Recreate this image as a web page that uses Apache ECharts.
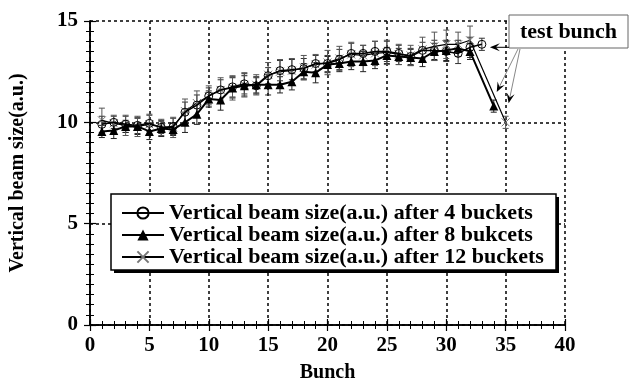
<!DOCTYPE html>
<html>
<head>
<meta charset="utf-8">
<script src="https://cdn.jsdelivr.net/npm/echarts@6/dist/echarts.min.js"></script>
<style>
html,body{margin:0;padding:0;background:#fff;}
#c{width:634px;height:381px;}
</style>
</head>
<body>
<div id="c"></div>
<script>
// ---- data ----
const xTicks = [0, 5, 10, 15, 20, 25, 30, 35, 40];
const yTicks = [0, 5, 10, 15];

const names = [
  'Vertical beam size(a.u.) after 4 buckets',
  'Vertical beam size(a.u.) after 8 bukcets',
  'Vertical beam size(a.u.) after 12 buckets'
];

const bunch4 = [1,2,3,4,5,6,7,8,9,10,11,12,13,14,15,16,17,18,19,20,21,22,23,24,25,26,27,28,29,30,31,32,33];
const size4  = [9.9,10.0,9.9,9.85,9.95,9.75,9.8,10.5,10.85,11.3,11.6,11.75,11.9,11.8,12.3,12.55,12.6,12.65,12.9,12.9,13.1,13.4,13.4,13.5,13.5,13.4,13.25,13.55,13.55,13.5,13.4,13.7,13.85];
const err4   = [0.4,0.3,0.4,0.4,0.4,0.3,0.4,0.5,0.5,0.4,0.5,0.5,0.5,0.4,0.4,0.5,0.5,0.5,0.4,0.4,0.5,0.5,0.4,0.5,0.5,0.4,0.4,0.4,0.5,0.5,0.5,0.5,0.3];

const bunch8 = [1,2,3,4,5,6,7,8,9,10,11,12,13,14,15,16,17,18,19,20,21,22,23,24,25,26,27,28,29,30,31,32,34];
const size8  = [9.55,9.6,9.8,9.8,9.55,9.7,9.65,10.0,10.4,11.15,11.1,11.7,11.8,11.85,11.85,11.85,12.0,12.5,12.45,12.85,12.9,13.0,13.0,13.05,13.3,13.25,13.2,13.15,13.5,13.55,13.65,13.5,10.8];
const err8   = [0.3,0.4,0.3,0.4,0.4,0.4,0.3,0.5,0.5,0.4,0.5,0.5,0.5,0.4,0.5,0.4,0.4,0.4,0.5,0.4,0.4,0.4,0.5,0.4,0.4,0.4,0.4,0.4,0.4,0.5,0.4,0.4,0.3];

const bunch12 = [1,2,3,4,5,6,7,8,9,10,11,12,13,14,15,16,17,18,19,20,21,22,23,24,25,26,27,28,29,30,31,32,35];
const size12  = [10.1,9.95,9.85,9.8,9.9,9.75,9.75,10.55,10.95,11.3,11.6,11.7,11.85,11.85,12.35,12.5,12.55,12.7,12.85,12.95,13.15,13.35,13.3,13.4,13.45,13.35,13.3,13.6,13.75,13.85,13.85,14.05,10.0];
const err12   = [0.6,0.4,0.5,0.5,0.5,0.4,0.5,0.6,0.6,0.5,0.6,0.6,0.6,0.5,0.6,0.6,0.6,0.6,0.5,0.6,0.6,0.6,0.5,0.6,0.6,0.5,0.5,0.6,0.7,0.7,0.6,0.7,0.3];

const annotationText = 'test bunch';

// ---- build ----
const FONT = "'Liberation Serif','Times New Roman',serif";
const pts = (xs, ys) => xs.map((x, i) => [x, ys[i]]);
const errs = (xs, ys, es) => xs.map((x, i) => [x, ys[i] - es[i], ys[i] + es[i]]);

function errSeries(data, color) {
  return {
    type: 'custom',
    data: data,
    encode: { x: 0, y: [1, 2] },
    z: 1,
    silent: true,
    renderItem: function (params, api) {
      const x = api.value(0);
      const top = api.coord([x, api.value(2)]);
      const bot = api.coord([x, api.value(1)]);
      const w = 3;
      const st = { stroke: color, lineWidth: 1 };
      return {
        type: 'group',
        children: [
          { type: 'line', shape: { x1: top[0], y1: top[1], x2: bot[0], y2: bot[1] }, style: st },
          { type: 'line', shape: { x1: top[0] - w, y1: top[1], x2: top[0] + w, y2: top[1] }, style: st },
          { type: 'line', shape: { x1: bot[0] - w, y1: bot[1], x2: bot[0] + w, y2: bot[1] }, style: st }
        ]
      };
    }
  };
}

const axisLabel = { fontFamily: FONT, fontWeight: 'bold', fontSize: 21, color: '#000' };
const splitLine = { show: true, lineStyle: { color: '#000', type: [3, 3], width: 1.5 } };
const axisLine = { show: true, lineStyle: { color: '#000', width: 1.5 } };
const tick = { show: true, inside: true, length: 6, lineStyle: { color: '#000', width: 1.2 } };

const chart = echarts.init(document.getElementById('c'), null, { renderer: 'canvas' });

const option = {
  animation: false,
  backgroundColor: '#fff',
  grid: { left: 90, right: 69, top: 21, bottom: 56, containLabel: false, outerBoundsMode: 'none' },
  xAxis: [
    {
      type: 'value', min: xTicks[0], max: xTicks[xTicks.length - 1], interval: 5,
      position: 'bottom',
      name: 'Bunch', nameLocation: 'middle', nameGap: 38,
      nameTextStyle: { fontFamily: FONT, fontWeight: 'bold', fontSize: 20, color: '#000' },
      axisLine: axisLine,
      axisTick: tick,
      minorTick: { show: true, splitNumber: 5, length: 4, lineStyle: { color: '#000', width: 1 } },
      axisLabel: Object.assign({ margin: 10 }, axisLabel),
      splitLine: splitLine
    },
    {
      type: 'value', min: xTicks[0], max: xTicks[xTicks.length - 1], interval: 5,
      position: 'top',
      axisLine: axisLine,
      axisTick: tick,
      minorTick: { show: true, splitNumber: 5, length: 4, lineStyle: { color: '#000', width: 1 } },
      axisLabel: { show: false },
      splitLine: { show: false }
    }
  ],
  yAxis: [
    {
      type: 'value', min: yTicks[0], max: yTicks[yTicks.length - 1], interval: 5,
      position: 'left',
      name: 'Vertical beam size(a.u.)', nameLocation: 'middle', nameGap: 62,
      nameTextStyle: { fontFamily: FONT, fontWeight: 'bold', fontSize: 20, color: '#000' },
      axisLine: axisLine,
      axisTick: tick,
      minorTick: { show: true, splitNumber: 10, length: 4, lineStyle: { color: '#000', width: 1 } },
      axisLabel: Object.assign({ margin: 12 }, axisLabel),
      splitLine: splitLine
    },
    {
      type: 'value', min: yTicks[0], max: yTicks[yTicks.length - 1], interval: 5,
      position: 'right',
      axisLine: axisLine,
      axisTick: tick,
      minorTick: { show: true, splitNumber: 10, length: 4, lineStyle: { color: '#000', width: 1 } },
      axisLabel: { show: false },
      splitLine: { show: false }
    }
  ],
  legend: {
    data: names,
    orient: 'vertical',
    left: 121, top: 202,
    padding: 0,
    z: 20,
    itemWidth: 42, itemHeight: 14, itemGap: 0,
    textStyle: { fontFamily: FONT, fontWeight: 'bold', fontSize: 22, lineHeight: 20, color: '#000' },
    selectedMode: false
  },
  series: [
    errSeries(errs(bunch4, size4, err4), '#333'),
    errSeries(errs(bunch8, size8, err8), '#222'),
    errSeries(errs(bunch12, size12, err12), '#555'),
    {
      name: names[0], type: 'line', data: pts(bunch4, size4), z: 3,
      symbol: 'circle', symbolSize: 8,
      lineStyle: { color: '#000', width: 1.5 },
      itemStyle: { color: 'rgba(255,255,255,0)', borderColor: '#000', borderWidth: 1 }
    },
    {
      name: names[1], type: 'line', data: pts(bunch8, size8), z: 4,
      symbol: 'triangle', symbolSize: 9,
      lineStyle: { color: '#000', width: 2 },
      itemStyle: { color: '#000' }
    },
    {
      name: names[2], type: 'line', data: pts(bunch12, size12), z: 2,
      symbol: 'path://M0,0L10,10M10,0L0,10', symbolSize: 8,
      lineStyle: { color: '#000', width: 1.2 },
      itemStyle: { color: 'none', borderColor: '#777', borderWidth: 1 }
    }
  ]
};
chart.setOption(option);

// ---- annotation & legend frame ----
function arrow(from, tip, lineColor) {
  const dx = tip[0] - from[0], dy = tip[1] - from[1];
  const L = Math.sqrt(dx * dx + dy * dy);
  const ux = dx / L, uy = dy / L;
  const px = -uy, py = ux;
  const hl = 10, hw = 4, notch = 6;
  const base = [tip[0] - ux * hl, tip[1] - uy * hl];
  const mid = [tip[0] - ux * notch, tip[1] - uy * notch];
  return [
    { type: 'line', z: 100, shape: { x1: from[0], y1: from[1], x2: mid[0], y2: mid[1] }, style: { stroke: lineColor, lineWidth: 1 } },
    { type: 'polygon', z: 100, shape: { points: [tip, [base[0] + px * hw, base[1] + py * hw], mid, [base[0] - px * hw, base[1] - py * hw]] }, style: { fill: '#000' } }
  ];
}

const p33 = chart.convertToPixel({ xAxisIndex: 0, yAxisIndex: 0 }, [bunch4[bunch4.length - 1], size4[size4.length - 1]]);
const p34 = chart.convertToPixel({ xAxisIndex: 0, yAxisIndex: 0 }, [bunch8[bunch8.length - 1], size8[size8.length - 1]]);
const p35 = chart.convertToPixel({ xAxisIndex: 0, yAxisIndex: 0 }, [bunch12[bunch12.length - 1], size12[size12.length - 1]]);

const box = { x: 509, y: 15, w: 119, h: 33 };
const lg = { x: 111, y: 194, w: 445, h: 76 };
const g = [
  { type: 'rect', z: 5, shape: { x: lg.x + 3, y: lg.y + 3, width: lg.w, height: lg.h }, style: { fill: '#000' } },
  { type: 'rect', z: 6, shape: { x: lg.x, y: lg.y, width: lg.w, height: lg.h }, style: { fill: '#fff', stroke: '#000', lineWidth: 1.5 } },
  { type: 'rect', z: 99, shape: { x: box.x, y: box.y, width: box.w, height: box.h }, style: { fill: '#fff', stroke: '#666', lineWidth: 1 } },
  { type: 'text', z: 101, x: box.x + box.w / 2, y: box.y + box.h / 2 + 1, style: { text: annotationText, fontFamily: FONT, fontWeight: 'bold', fontSize: 22, fill: '#000', align: 'center', verticalAlign: 'middle' } }
]
  .concat(arrow([box.x, p33[1] + 3], [p33[0] + 8, p33[1] + 3], '#000'))
  .concat(arrow([box.x + 9, box.y + box.h + 1], [p34[0] + 3, p34[1] - 14], '#888'))
  .concat(arrow([box.x + 11, box.y + box.h + 1], [p35[0] + 3, p35[1] - 19], '#888'));

chart.setOption({ graphic: { elements: g } });
</script>
</body>
</html>
